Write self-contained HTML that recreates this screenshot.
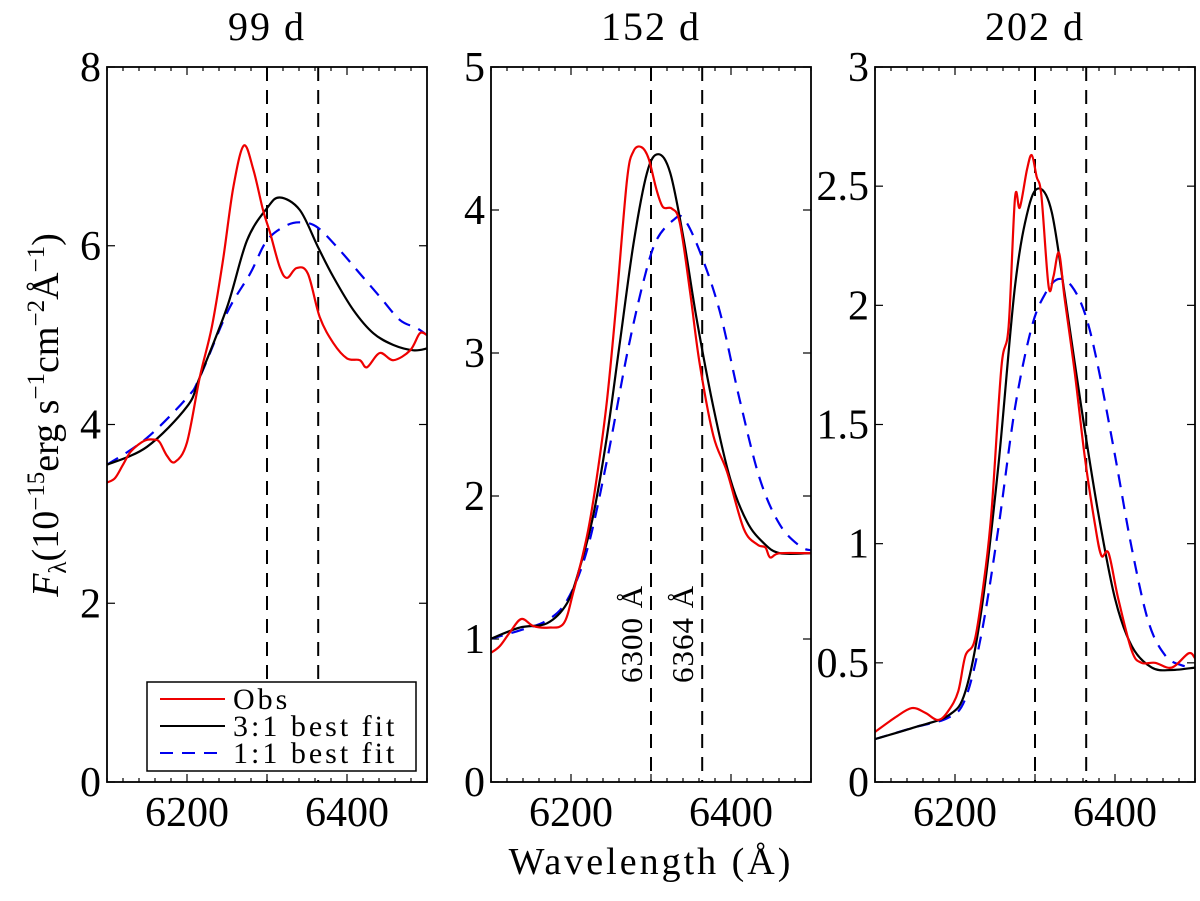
<!DOCTYPE html>
<html><head><meta charset="utf-8"><style>
html,body{margin:0;padding:0;background:#fff;}
svg, svg text{font-family:"Liberation Serif","DejaVu Serif",serif;}
</style></head><body>
<svg id="fig" width="1200" height="896" viewBox="0 0 1200 896" xmlns="http://www.w3.org/2000/svg" font-family="Liberation Serif, DejaVu Serif, serif">
<text transform="translate(58,415) rotate(-90)" text-anchor="middle" font-size="38"><tspan font-style="italic">F</tspan><tspan font-size="25" dy="8">λ</tspan><tspan dy="-8">(10</tspan><tspan font-size="25" dy="-14">−15</tspan><tspan dy="14">erg s</tspan><tspan font-size="25" dy="-14">−1</tspan><tspan dy="14">cm</tspan><tspan font-size="25" dy="-14">−2</tspan><tspan dy="14">Å</tspan><tspan font-size="25" dy="-14">−1</tspan><tspan dy="14">)</tspan></text>
<text x="651" y="874" text-anchor="middle" font-size="38" letter-spacing="3">Wavelength (Å)</text>
</svg>
<script>
const NS="http://www.w3.org/2000/svg";
const svg=document.getElementById('fig');
// ---- data ----
const titles=["99 d","152 d","202 d"];
const yMaxes=[8,5,3];
const yTickVals1=[0,2,4,6,8];
const yTickVals2=[0,1,2,3,4,5];
const yTickVals3=[0,0.5,1,1.5,2,2.5,3];
const yTickLabels3=["0","0.5","1","1.5","2","2.5","3"];
const xTickVals=[6200,6400];
const lineCenters=[6300,6364];
const obs1W=[6100,6110,6120,6130,6147,6160,6166,6175,6185,6200,6216,6231,6245,6258,6271,6283,6295,6304,6316,6325,6337,6351,6366,6383,6400,6416,6425,6441,6458,6479,6491,6500];
const obs1F=[3.35,3.4,3.55,3.7,3.82,3.83,3.8,3.65,3.58,3.8,4.53,5.09,5.84,6.66,7.12,6.85,6.4,6.14,5.76,5.64,5.75,5.69,5.2,4.91,4.74,4.72,4.64,4.8,4.72,4.83,5.02,5.0];
const fit31W1=[6100,6150,6200,6216,6250,6275,6300,6316,6341,6364,6383,6408,6433,6458,6483,6500];
const fit31F1=[3.55,3.75,4.2,4.53,5.31,6.06,6.42,6.54,6.4,5.98,5.65,5.28,5.02,4.89,4.83,4.85];
const fit11W1=[6100,6150,6200,6216,6250,6279,6300,6325,6345,6364,6391,6416,6441,6466,6487,6500];
const fit11F1=[3.55,3.85,4.3,4.53,5.25,5.69,6.06,6.23,6.26,6.2,5.95,5.69,5.43,5.17,5.08,5.0];
const obs2W=[6099,6111,6124,6138,6153,6172,6191,6203,6220,6232,6245,6257,6270,6278,6288,6297,6307,6315,6326,6336,6349,6361,6378,6395,6416,6433,6443,6449,6461,6500];
const obs2F=[0.9,0.95,1.05,1.14,1.09,1.08,1.11,1.33,1.72,2.12,2.67,3.37,4.21,4.41,4.44,4.36,4.14,4.02,4.01,3.91,3.42,2.92,2.42,2.17,1.77,1.66,1.64,1.57,1.6,1.6];
const fit31W2=[6099,6136,6170,6195,6211,6228,6245,6261,6278,6295,6309,6324,6341,6357,6378,6399,6420,6441,6461,6500];
const fit31F2=[1.0,1.08,1.11,1.25,1.5,1.87,2.42,3.07,3.76,4.26,4.39,4.26,3.79,3.24,2.62,2.12,1.82,1.67,1.6,1.6];
const fit11W2=[6099,6136,6170,6195,6220,6245,6270,6291,6307,6328,6341,6361,6386,6411,6436,6461,6486,6500];
const fit11F2=[1.0,1.06,1.13,1.27,1.62,2.25,2.99,3.51,3.79,3.93,3.94,3.71,3.29,2.67,2.12,1.8,1.65,1.62];
const obs3W=[6100,6125,6146,6163,6179,6192,6204,6213,6225,6238,6246,6258,6267,6275,6281,6290,6296,6302,6308,6317,6323,6330,6337,6350,6362,6375,6383,6392,6404,6421,6433,6450,6471,6492,6500];
const obs3F=[0.21,0.27,0.31,0.29,0.26,0.3,0.38,0.53,0.6,0.89,1.15,1.74,1.91,2.45,2.41,2.57,2.63,2.54,2.46,2.08,2.12,2.22,2.03,1.71,1.37,1.08,0.95,0.96,0.77,0.55,0.5,0.5,0.48,0.54,0.52];
const fit31W3=[6100,6150,6192,6213,6233,6254,6275,6292,6306,6321,6337,6358,6379,6400,6421,6446,6471,6500];
const fit31F3=[0.18,0.23,0.28,0.38,0.72,1.32,2.08,2.41,2.49,2.39,2.05,1.57,1.13,0.77,0.57,0.48,0.47,0.48];
const fit11W3=[6100,6150,6192,6213,6233,6254,6275,6296,6313,6329,6346,6363,6379,6400,6421,6442,6463,6483,6500];
const fit11F3=[0.18,0.23,0.27,0.35,0.62,1.06,1.57,1.91,2.05,2.11,2.08,1.96,1.74,1.37,0.98,0.67,0.53,0.49,0.48];
// ---- layout ----
const panels=[
 {x0:107,yTicks:yTickVals1,yLabels:yTickVals1.map(String),obsW:obs1W,obsF:obs1F,aW:fit31W1,aF:fit31F1,bW:fit11W1,bF:fit11F1},
 {x0:491,yTicks:yTickVals2,yLabels:yTickVals2.map(String),obsW:obs2W,obsF:obs2F,aW:fit31W2,aF:fit31F2,bW:fit11W2,bF:fit11F2},
 {x0:875,yTicks:yTickVals3,yLabels:yTickLabels3,obsW:obs3W,obsF:obs3F,aW:fit31W3,aF:fit31F3,bW:fit11W3,bF:fit11F3}
];
const TOP=67,BOT=782,W=320;
function el(tag,attrs,parent){const e=document.createElementNS(NS,tag);for(const k in attrs)e.setAttribute(k,attrs[k]);(parent||svg).appendChild(e);return e;}
function smooth(pts){let d=`M${pts[0][0]},${pts[0][1]}`;for(let i=0;i<pts.length-1;i++){const p0=pts[Math.max(0,i-1)],p1=pts[i],p2=pts[i+1],p3=pts[Math.min(pts.length-1,i+2)];const c1=[p1[0]+(p2[0]-p0[0])/6,p1[1]+(p2[1]-p0[1])/6],c2=[p2[0]-(p3[0]-p1[0])/6,p2[1]-(p3[1]-p1[1])/6];d+=`C${c1[0].toFixed(1)},${c1[1].toFixed(1)} ${c2[0].toFixed(1)},${c2[1].toFixed(1)} ${p2[0].toFixed(1)},${p2[1].toFixed(1)}`;}return d;}
panels.forEach((p,i)=>{
 const xs=w=>p.x0+(w-6100)/400*W;
 const ys=v=>BOT-v/yMaxes[i]*(BOT-TOP);
 const g=el('g',{});
 
 
 const cid='clip'+i;
 const cp=el('clipPath',{id:cid},g);el('rect',{x:p.x0,y:TOP,width:W,height:BOT-TOP},cp);
 const t=el('text',{x:p.x0+W/2,y:40,'text-anchor':'middle','font-size':40,'letter-spacing':2},g);t.textContent=titles[i];
 
 
 for(let w=6100;w<=6500;w+=20){const major=xTickVals.includes(w)||lineCenters.includes(w);const L=major?8:4;const x=xs(w);
  el('line',{x1:x,y1:BOT,x2:x,y2:BOT-L,stroke:'#000','stroke-width':1.2},g);el('line',{x1:x,y1:TOP,x2:x,y2:TOP+L,stroke:'#000','stroke-width':1.2},g);}
 xTickVals.forEach(w=>{const tx=el('text',{x:xs(w),y:826,'text-anchor':'middle','font-size':42},g);tx.textContent=w;
  
  });
 p.yTicks.forEach((v,k)=>{const y=ys(v);
  el('line',{x1:p.x0,y1:y,x2:p.x0+8,y2:y,stroke:'#000','stroke-width':1.2},g);el('line',{x1:p.x0+W,y1:y,x2:p.x0+W-8,y2:y,stroke:'#000','stroke-width':1.2},g);
  const ty=el('text',{x:p.x0-6,y:y+14,'text-anchor':'end','font-size':42},g);ty.textContent=p.yLabels[k];
  
  });
 const cg=el('g',{'clip-path':`url(#${cid})`},g);
 lineCenters.forEach(w=>{const dl=el('line',{x1:xs(w),y1:TOP,x2:xs(w),y2:BOT,stroke:'#000','stroke-width':2,'stroke-dasharray':'14,9'},cg);
  
  });
 const pb=el('path',{d:smooth(p.bW.map((w,k)=>[xs(w),ys(p.bF[k])])),fill:'none',stroke:'#0000ee','stroke-width':2.2,'stroke-dasharray':'13,9'},cg);
 
 
 const pa=el('path',{d:smooth(p.aW.map((w,k)=>[xs(w),ys(p.aF[k])])),fill:'none',stroke:'#000','stroke-width':2.2},cg);
 
 
 const po=el('path',{d:smooth(p.obsW.map((w,k)=>[xs(w),ys(p.obsF[k])])),fill:'none',stroke:'#ee0000','stroke-width':2.2,'stroke-linejoin':'round'},cg);
 
 
 if(i===1){lineCenters.forEach((w,k)=>{const a=el('text',{transform:`translate(${xs(w)-9},${683}) rotate(-90)`,'font-size':31,'letter-spacing':1},g);a.textContent=w+' Å';
  
  });}
 if(i===0){const lg=el('g',{'clip-path':`url(#${cid})`},g);
  
  
  el('rect',{x:147,y:682,width:269,height:89,fill:'#fff',stroke:'#000','stroke-width':1.5},lg);
  const items=[['Obs','#ee0000',''],['3:1 best fit','#000',''],['1:1 best fit','#0000ee','13,9']];
  items.forEach((it,k)=>{const y=699+k*27;el('line',{x1:160,y1:y,x2:225,y2:y,stroke:it[1],'stroke-width':2,'stroke-dasharray':it[2]||'none'},lg);
   const tt=el('text',{x:233,y:y+10,'font-size':30,'letter-spacing':3},lg);tt.textContent=it[0];
   
   });}
 el('rect',{x:p.x0,y:TOP,width:W,height:BOT-TOP,fill:'none',stroke:'#000','stroke-width':1.8},g);
});
</script>
</body></html>
